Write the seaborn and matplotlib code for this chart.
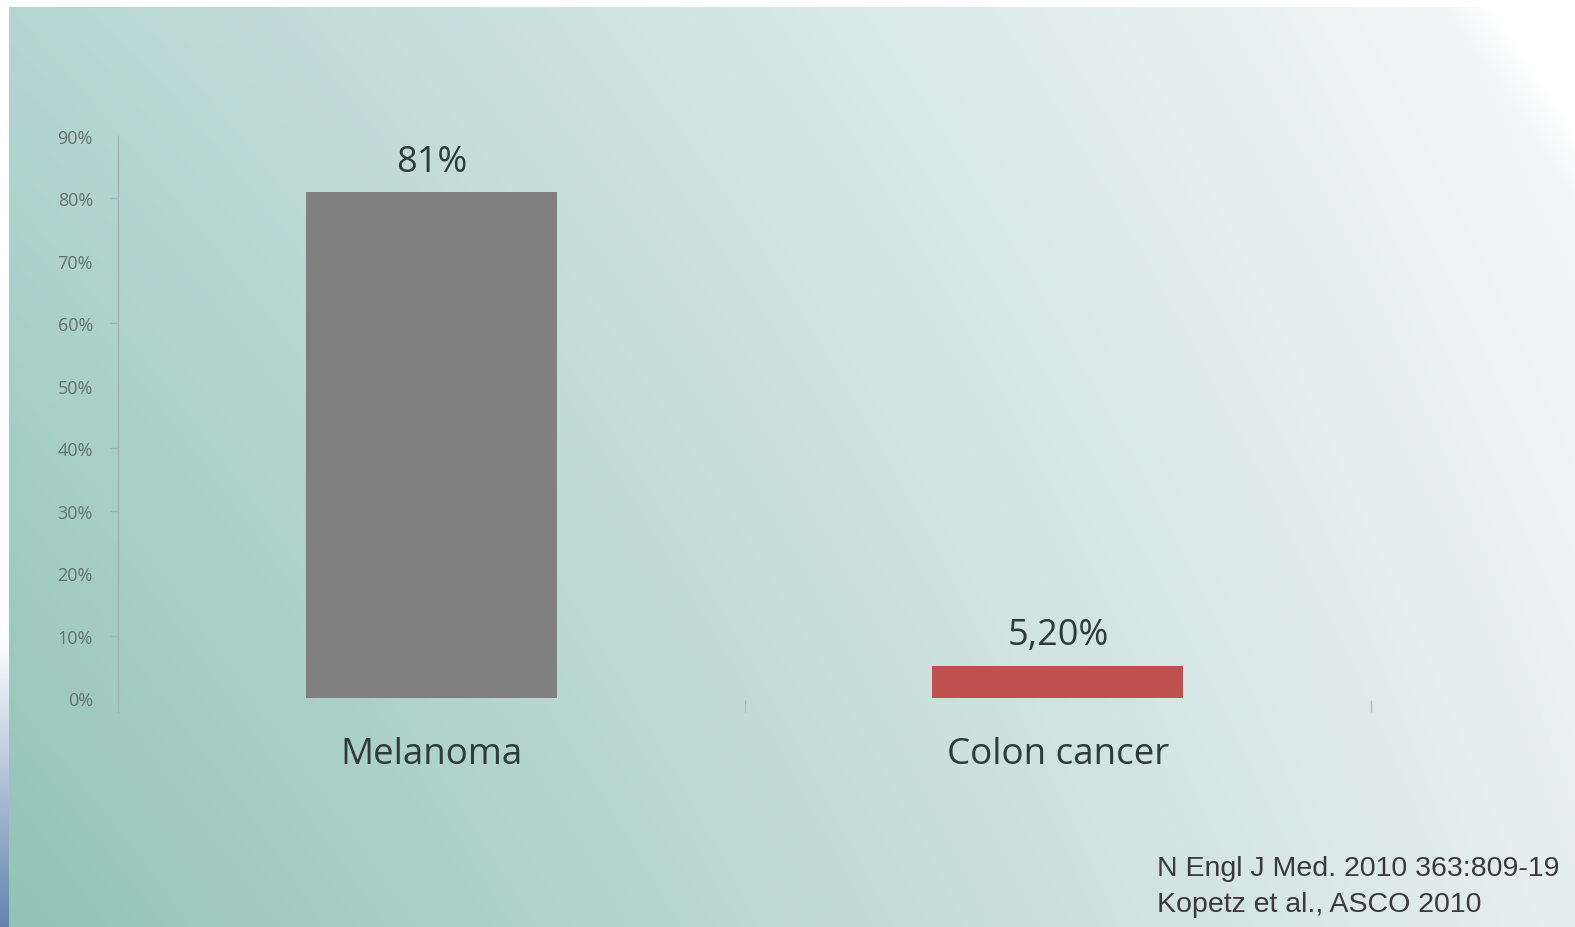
import numpy as np
import matplotlib
matplotlib.use("Agg")
import matplotlib.pyplot as plt
import seaborn as sns

# Share of patients responding, by tumour type
categories = ["Melanoma", "Colon cancer"]
rates = [81.0, 5.2]
rate_labels = ["81%", "5,20%"]
bar_colors = ["#808080", "#c0504d"]
y_ticks = [0, 10, 20, 30, 40, 50, 60, 70, 80, 90]
y_tick_labels = [f"{t}%" for t in y_ticks]
marked_ticks = [10, 30, 40, 60, 80]
references = ["N Engl J Med. 2010 363:809-19", "Kopetz et al., ASCO 2010"]

sns.set_style("white")
plt.rcParams["font.family"] = ["Open Sans", "DejaVu Sans"]

W, H = 1575, 928
fig = plt.figure(figsize=(W / 100, H / 100), dpi=100)


def hex2rgb(h):
    return np.array([int(h[i:i + 2], 16) for i in (1, 3, 5)]) / 255.0


# Slide background: diagonal teal-to-white wash
u = np.linspace(0, 1, W)[None, :, None]
v = np.linspace(0, 1, H)[:, None, None]
tl, tr, bl, br = map(hex2rgb, ["#b6d6d1", "#f6f9fa", "#93c3b6", "#e6efef"])
top = tl * (1 - u) + tr * u
bot = bl * (1 - u) + br * u
img = top * (1 - v) + bot * v
white = np.clip((u - 0.914 - 0.4 * v) / 0.03, 0, 1)
img = img * (1 - white) + white
img[:8, :, :] = 1.0
img[:, :9, :] = 1.0
y0 = 640
t = np.clip((np.arange(H) - y0) / (H - y0), 0, 1)
strip = (1 - t)[:, None] * np.ones(3) + t[:, None] * hex2rgb("#6283ae")
img[y0:, :9, :] = strip[y0:, None, :]

bg = fig.add_axes([0, 0, 1, 1], zorder=0)
bg.imshow(img, aspect="auto", interpolation="bilinear")
bg.axis("off")

# Bar chart
ax = fig.add_axes([118 / W, 1 - 713 / H, (1371 - 118) / W, (713 - 137) / H], zorder=1)
ax.patch.set_alpha(0)
sns.barplot(x=categories, y=rates, hue=categories, palette=bar_colors,
            width=0.4, saturation=1, legend=False, linewidth=0, ax=ax)

ax.set_xlim(-0.5, 1.5)
ax.set_ylim(-2.2, 90)
for side in ["top", "right", "bottom"]:
    ax.spines[side].set_visible(False)
ax.spines["left"].set_color("#9fb3b0")
ax.spines["left"].set_linewidth(1.0)

ax.yaxis.remove_overlapping_locs = False
ax.set_yticks(y_ticks, y_tick_labels)
ax.tick_params(axis="y", which="major", left=True, length=0, pad=18,
               labelsize=13, labelcolor="#62716f")
ax.set_yticks(marked_ticks, minor=True)
ax.tick_params(axis="y", which="minor", left=True, length=6, width=0.9,
               color="#9fb3b0", direction="out")

ax.set_xticks([0, 1], categories)
ax.tick_params(axis="x", which="major", bottom=True, length=0, pad=17,
               labelsize=26.5, labelcolor="#2e3b3b")
ax.set_xticks([0.5, 1.5], minor=True)
ax.tick_params(axis="x", which="minor", bottom=True, length=9, width=1.0,
               color="#adbdba", direction="in")
ax.set_xlabel("")
ax.set_ylabel("")

for cont, lab in zip(ax.containers, rate_labels):
    ax.bar_label(cont, labels=[lab], padding=9, fontsize=26, color="#2e3b3b")

# Sources
for i, ref in enumerate(references):
    fig.text(1157 / W, 1 - (869 + 36 * i) / H, ref, ha="left", va="center",
             fontsize=20.5, family=["Liberation Sans", "DejaVu Sans"],
             color="#3a3a3a")

fig.savefig("out.png", dpi=100)
